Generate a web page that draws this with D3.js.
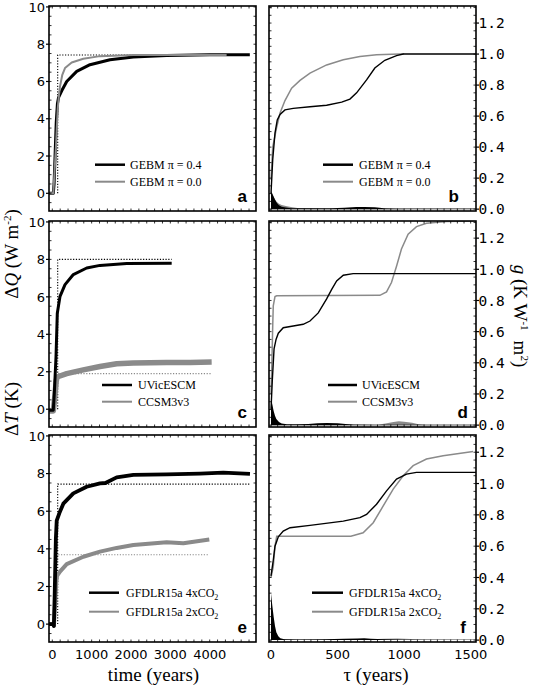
<!DOCTYPE html>
<html><head><meta charset="utf-8">
<script src="https://cdn.jsdelivr.net/npm/d3@7"></script>
<style>body{margin:0;background:#fff}svg{display:block}</style>
</head><body>
<svg id="chart" width="536" height="686"></svg>
<script>
// ---------- DATA ----------
const leftTicksX = [0, 1000, 2000, 3000, 4000];
const leftTicksY = [0, 2, 4, 6, 8, 10];
const rightTicksX = [0, 500, 1000, 1500];
const rightTicksY = [0.0, 0.2, 0.4, 0.6, 0.8, 1.0, 1.2];

const gebm04_dT = [[-80,0],[25,0],[45,0.5],[70,2.0],[100,3.8],[130,4.8],[160,5.15],[239,5.5],[366,6.0],[620,6.54],[958,6.9],[1466,7.17],[2060,7.31],[2907,7.4],[4000,7.43],[5020,7.44]];
const gebm00_dT = [[-80,0],[25,0],[50,0.9],[94,2.53],[137,4.5],[170,5.3],[196,5.74],[254,6.36],[323,6.72],[493,7.02],[788,7.22],[1212,7.36],[2060,7.42],[4430,7.42]];
const gebm_dQ = [[137,0],[137,7.42],[5000,7.42]];

const uvic_dT = [[-80,-0.05],[25,-0.05],[50,0.8],[94,2.8],[127,5.13],[196,6.03],[323,6.65],[534,7.19],[874,7.54],[1212,7.68],[1891,7.78],[3034,7.8]];
const ccsm_dT = [[-80,-0.1],[25,-0.1],[60,0.6],[100,1.5],[120,1.72],[366,1.9],[788,2.1],[1212,2.28],[1636,2.43],[2060,2.47],[2907,2.5],[3500,2.5],[4050,2.52]];
const uvic_dQ = [[137,0],[137,8.0],[3034,8.0]];
const ccsm_dQ = [[150,1.9],[4050,1.9]];

const gfdl4x_dT = [[-80,0],[25,0],[40,-0.1],[60,1.5],[90,4.5],[112,5.5],[180,5.9],[280,6.4],[534,6.95],[874,7.3],[1212,7.48],[1350,7.5],[1636,7.8],[2060,7.93],[2907,7.96],[3753,8.0],[4346,8.05],[5024,7.98]];
const gfdl2x_dT = [[-80,0],[25,0],[40,-0.1],[70,1.0],[100,2.2],[120,2.56],[200,2.8],[366,3.19],[788,3.58],[1212,3.85],[1636,4.05],[2060,4.2],[2907,4.35],[3330,4.3],[3990,4.5]];
const gfdl4x_dQ = [[137,0],[137,7.44],[5020,7.44]];
const gfdl2x_dQ = [[150,3.69],[3990,3.69]];

const gebm04_g = [[0,0.1],[13,0.32],[30,0.49],[47,0.575],[68,0.61],[105,0.64],[167,0.65],[293,0.66],[418,0.67],[531,0.69],[593,0.71],[643,0.75],[718,0.834],[780,0.91],[855,0.96],[943,0.99],[993,1.0],[1540,1.0]];
const gebm00_g = [[0,0.19],[13,0.40],[43,0.53],[68,0.62],[105,0.70],[155,0.78],[218,0.83],[293,0.877],[418,0.93],[543,0.963],[668,0.985],[793,0.995],[968,1.0],[1000,1.0]];
const gebm04_p = [[0,0.11],[10,0.10],[20,0.08],[30,0.06],[45,0.04],[60,0.025],[80,0.016],[110,0.01],[150,0.006],[300,0.005],[450,0.006],[550,0.009],[640,0.013],[700,0.014],[780,0.012],[850,0.006],[950,0.004],[1540,0.004]];
const gebm00_p = [[0,0.12],[20,0.08],[40,0.05],[60,0.035],[80,0.026],[120,0.018],[160,0.012],[200,0.008],[300,0.005],[400,0.003],[600,0.002],[1000,0.001]];

const uvic_g = [[0,0.1],[10,0.29],[23,0.49],[38,0.55],[55,0.59],[92,0.625],[167,0.636],[242,0.647],[293,0.668],[355,0.72],[418,0.81],[455,0.87],[493,0.925],[543,0.962],[617,0.972],[1540,0.972]];
const ccsm_g = [[0,0.2],[5,0.336],[13,0.64],[17,0.765],[30,0.825],[43,0.83],[818,0.833],[868,0.855],[905,0.915],[943,1.02],[980,1.13],[1030,1.226],[1093,1.274],[1168,1.296],[1318,1.307],[1540,1.31]];
const uvic_p = [[0,0.17],[10,0.13],[20,0.09],[30,0.06],[40,0.04],[60,0.02],[80,0.01],[120,0.006],[200,0.005],[280,0.008],[350,0.012],[420,0.014],[500,0.012],[560,0.008],[620,0.004],[800,0.003],[1540,0.003]];
const ccsm_p = [[0,0.2],[8,0.15],[15,0.05],[25,0.015],[40,0.006],[100,0.003],[800,0.003],[860,0.01],[920,0.02],[960,0.025],[1000,0.022],[1060,0.015],[1100,0.008],[1160,0.003],[1540,0.002]];

const gfdl4x_g = [[0,0.41],[17,0.51],[30,0.6],[55,0.66],[92,0.696],[143,0.718],[293,0.733],[543,0.76],[668,0.782],[718,0.803],[793,0.868],[868,0.953],[943,1.028],[1018,1.06],[1093,1.071],[1540,1.071]];
const gfdl2x_g = [[0,0.4],[17,0.47],[30,0.6],[43,0.664],[600,0.664],[692,0.686],[768,0.75],[843,0.857],[918,0.964],[993,1.05],[1068,1.114],[1168,1.157],[1293,1.178],[1518,1.204]];
const gfdl4x_p = [[0,0.30],[10,0.22],[20,0.15],[30,0.09],[40,0.05],[55,0.025],[70,0.012],[100,0.006],[200,0.004],[400,0.005],[550,0.008],[650,0.01],[700,0.012],[750,0.009],[850,0.005],[1000,0.003],[1540,0.003]];
const gfdl2x_p = [[0,0.25],[15,0.12],[30,0.05],[50,0.015],[80,0.006],[300,0.003],[700,0.004],[850,0.008],[950,0.01],[1050,0.007],[1150,0.004],[1540,0.002]];

const legendNames = [["GEBM π = 0.4","GEBM π = 0.0"],["UVicESCM","CCSM3v3"],["GFDLR15a 4xCO","GFDLR15a 2xCO"]];
const panelLetters = [["a","b"],["c","d"],["e","f"]];

// ---------- LAYOUT ----------
const svg = d3.select("#chart");
const rows = [{top:6,bottom:211},{top:221,bottom:427},{top:435,bottom:642}];
const L = {x0:49, x1:256}, R = {x0:269, x1:476};
const BLACK = "#000", GREY = "#8a8a8a";
const xL = d3.scaleLinear().domain([-84, 5177]).range([L.x0, L.x1]);
const xR = d3.scaleLinear().domain([-15, 1540]).range([R.x0, R.x1]);

const leftData = [
  {black:gebm04_dT, grey:gebm00_dT, dotB:gebm_dQ, dotG:null, bw:3, gw:2},
  {black:uvic_dT, grey:ccsm_dT, dotB:uvic_dQ, dotG:ccsm_dQ, bw:3, gw:5.5},
  {black:gfdl4x_dT, grey:gfdl2x_dT, dotB:gfdl4x_dQ, dotG:gfdl2x_dQ, bw:3.8, gw:4}
];
const rightData = [
  {black:gebm04_g, grey:gebm00_g, pb:gebm04_p, pg:gebm00_p},
  {black:uvic_g, grey:ccsm_g, pb:uvic_p, pg:ccsm_p},
  {black:gfdl4x_g, grey:gfdl2x_g, pb:gfdl4x_p, pg:gfdl2x_p}
];
// legend offsets measured from each row's frame top
const legendPos = [
  {l:{x0:95,x1:125,tx:130,y:[158.7,175.7]}, r:{x0:323,x1:353,tx:359,y:[158.7,175.7]}},
  {l:{x0:102,x1:132,tx:138,y:[164,180.7]}, r:{x0:328,x1:357,tx:362,y:[164,180.7]}},
  {l:{x0:89,x1:119,tx:126,y:[157.7,176.7]}, r:{x0:312,x1:343,tx:349,y:[157.7,176.7]}}
];
const letterPos = [[247,459],[247,468],[247,466]];

function frameAndTicks(g, x, y, top, bottom, side, minX, minY, majY, isBottom, majX, yfmt) {
  const x0 = x.range()[0], x1 = x.range()[1];
  const mx = d3.range(Math.ceil(x.domain()[0]/minX)*minX, x.domain()[1], minX);
  const my = d3.range(Math.ceil(y.domain()[0]/minY)*minY, y.domain()[1], minY);
  const tk = g.append("g").attr("stroke", "#000").attr("stroke-width", 0.8);
  mx.forEach(v => {
    const px = x(v);
    tk.append("line").attr("x1",px).attr("x2",px).attr("y1",top).attr("y2",top+2.5);
    tk.append("line").attr("x1",px).attr("x2",px).attr("y1",bottom).attr("y2",bottom-2.5);
  });
  my.forEach(v => {
    const py = y(v);
    tk.append("line").attr("x1",x0).attr("x2",x0+2.5).attr("y1",py).attr("y2",py);
    tk.append("line").attr("x1",x1).attr("x2",x1-2.5).attr("y1",py).attr("y2",py);
  });
  g.append("rect").attr("x",x0).attr("y",top).attr("width",x1-x0).attr("height",bottom-top)
    .attr("fill","none").attr("stroke","#000").attr("stroke-width",1.6);
  if (side === "left") {
    majY.forEach(v => {
      g.append("line").attr("x1",x0-3).attr("x2",x0).attr("y1",y(v)).attr("y2",y(v)).attr("stroke","#000").attr("stroke-width",1.2);
      g.append("text").attr("x",x0-4).attr("y",y(v)).attr("dy","0.36em").attr("text-anchor","end")
        .attr("font-family","DejaVu Sans").attr("font-size",13).text(yfmt(v));
    });
  } else {
    majY.forEach(v => {
      g.append("line").attr("x1",x1).attr("x2",x1+3).attr("y1",y(v)).attr("y2",y(v)).attr("stroke","#000").attr("stroke-width",1.2);
      g.append("text").attr("x",x1+2.5).attr("y",y(v)).attr("dy","0.36em").attr("text-anchor","start")
        .attr("font-family","DejaVu Sans Mono").attr("font-size",14.5).text(yfmt(v));
    });
  }
  if (isBottom) {
    majX.forEach(v => {
      g.append("text").attr("x",x(v)).attr("y",bottom+17).attr("text-anchor","middle")
        .attr("font-family","DejaVu Sans").attr("font-size",13).text(v);
    });
  }
}

function legend(g, pos, top, names, sub) {
  const cols = [BLACK, GREY], widths = [2.5, 2];
  [0,1].forEach(i => {
    const yy = top + pos.y[i];
    g.append("line").attr("x1",pos.x0).attr("x2",pos.x1).attr("y1",yy).attr("y2",yy)
      .attr("stroke",cols[i]).attr("stroke-width",widths[i]);
    const t = g.append("text").attr("x",pos.tx).attr("y",yy).attr("dy","0.35em")
      .attr("font-family","Liberation Serif").attr("font-size",12).text(names[i]);
    if (sub) t.append("tspan").attr("font-size",8).attr("dy","0.35em").text("2");
  });
}

rows.forEach((row, r) => {
  const yL = d3.scaleLinear().domain([-0.95, 10.05]).range([row.bottom, row.top]);
  const yR = d3.scaleLinear().domain([-0.012, 1.31]).range([row.bottom, row.top]);
  const isBottom = r === 2;

  // ---- left panel ----
  const gl = svg.append("g");
  const dl = leftData[r];
  const lineL = d3.line().x(d => xL(d[0])).y(d => yL(d[1]));
  const clipIdL = "clipL" + r;
  svg.append("clipPath").attr("id", clipIdL).append("rect")
    .attr("x", L.x0).attr("y", row.top).attr("width", L.x1-L.x0).attr("height", row.bottom-row.top);
  const pl = gl.append("g").attr("clip-path", `url(#${clipIdL})`);
  pl.append("path").attr("d", lineL(dl.dotB)).attr("fill","none").attr("stroke","#000")
    .attr("stroke-width",1.1).attr("stroke-dasharray","1.2,1.6");
  if (dl.dotG) pl.append("path").attr("d", lineL(dl.dotG)).attr("fill","none").attr("stroke",GREY)
    .attr("stroke-width",1.1).attr("stroke-dasharray","1.2,1.6");
  if (r === 0) {
    pl.append("path").attr("d", lineL(dl.black)).attr("fill","none").attr("stroke",BLACK).attr("stroke-width",dl.bw).attr("stroke-linejoin","round");
    pl.append("path").attr("d", lineL(dl.grey)).attr("fill","none").attr("stroke",GREY).attr("stroke-width",dl.gw).attr("stroke-linejoin","round");
  } else {
    pl.append("path").attr("d", lineL(dl.grey)).attr("fill","none").attr("stroke",GREY).attr("stroke-width",dl.gw).attr("stroke-linejoin","round");
    pl.append("path").attr("d", lineL(dl.black)).attr("fill","none").attr("stroke",BLACK).attr("stroke-width",dl.bw).attr("stroke-linejoin","round");
  }
  frameAndTicks(gl, xL, yL, row.top, row.bottom, "left", 200, 0.5, leftTicksY, isBottom, leftTicksX, d3.format("d"));
  legend(gl, legendPos[r].l, row.top, legendNames[r], r === 2);
  gl.append("text").attr("x", letterPos[r][0]).attr("y", row.bottom-9).attr("text-anchor","end")
    .attr("font-family","Liberation Sans").attr("font-weight","bold").attr("font-size",17).text(panelLetters[r][0]);

  // ---- right panel ----
  const gr = svg.append("g");
  const dr = rightData[r];
  const lineR = d3.line().x(d => xR(d[0])).y(d => yR(d[1]));
  const areaR = d3.area().x(d => xR(d[0])).y0(yR(0)).y1(d => yR(d[1]));
  const clipIdR = "clipR" + r;
  svg.append("clipPath").attr("id", clipIdR).append("rect")
    .attr("x", R.x0).attr("y", row.top).attr("width", R.x1-R.x0).attr("height", row.bottom-row.top);
  const pr = gr.append("g").attr("clip-path", `url(#${clipIdR})`);
  pr.append("path").attr("d", areaR(dr.pg)).attr("fill", GREY);
  pr.append("path").attr("d", areaR(dr.pb)).attr("fill", BLACK);
  pr.append("path").attr("d", lineR(dr.grey)).attr("fill","none").attr("stroke",GREY).attr("stroke-width",1.5);
  pr.append("path").attr("d", lineR(dr.black)).attr("fill","none").attr("stroke",BLACK).attr("stroke-width",1.4);
  frameAndTicks(gr, xR, yR, row.top, row.bottom, "right", 50, 0.05, rightTicksY, isBottom, rightTicksX, d3.format(".1f"));
  legend(gr, legendPos[r].r, row.top, legendNames[r], r === 2);
  gr.append("text").attr("x", letterPos[r][1]).attr("y", row.bottom-9).attr("text-anchor","end")
    .attr("font-family","Liberation Sans").attr("font-weight","bold").attr("font-size",17).text(panelLetters[r][1]);
});

// ---------- AXIS TITLES ----------
const serif = "Liberation Serif";
const tQ = svg.append("text").attr("transform","translate(18,254) rotate(-90)").attr("text-anchor","middle")
  .attr("font-family",serif).attr("font-size",19);
tQ.append("tspan").text("Δ");
tQ.append("tspan").attr("font-style","italic").text("Q");
tQ.append("tspan").text(" (W m");
tQ.append("tspan").attr("font-size",11).attr("dy",-7).text("-2");
tQ.append("tspan").attr("dy",7).text(")");

const tT = svg.append("text").attr("transform","translate(18,409) rotate(-90)").attr("text-anchor","middle")
  .attr("font-family",serif).attr("font-size",19);
tT.append("tspan").text("Δ");
tT.append("tspan").attr("font-style","italic").text("T");
tT.append("tspan").text(" (K)");

const tg = svg.append("text").attr("transform","translate(514,316) rotate(90)").attr("text-anchor","middle")
  .attr("font-family",serif).attr("font-size",19);
tg.append("tspan").attr("font-style","italic").text("g");
tg.append("tspan").text(" (K W");
tg.append("tspan").attr("font-size",11).attr("dy",-7).text("-1");
tg.append("tspan").attr("dy",7).attr("dx",10).text("m");
tg.append("tspan").attr("font-size",11).attr("dy",-7).text("2");
tg.append("tspan").attr("dy",7).text(")");

svg.append("text").attr("x",153.5).attr("y",681).attr("text-anchor","middle")
  .attr("font-family",serif).attr("font-size",19).text("time (years)");
svg.append("text").attr("x",376).attr("y",681).attr("text-anchor","middle")
  .attr("font-family",serif).attr("font-size",19).text("τ (years)");
</script>
</body></html>
